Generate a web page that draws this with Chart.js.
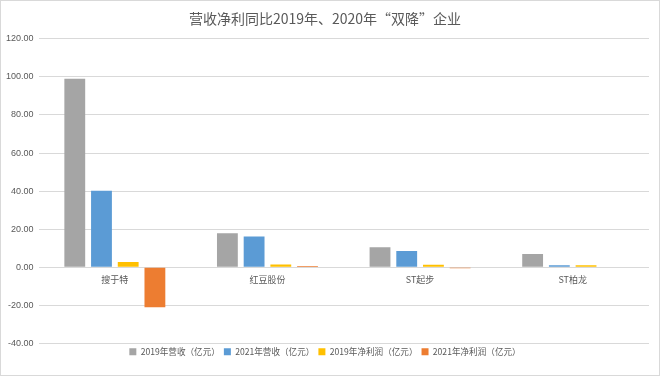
<!DOCTYPE html>
<html>
<head>
<meta charset="utf-8">
<script src="https://cdn.jsdelivr.net/npm/chart.js@4/dist/chart.umd.min.js"></script>
<style>
  body { margin: 0; background: #fff; }
  #wrap { width: 658px; height: 374px; border: 1px solid #d9d9d9; position: relative; }
</style>
</head>
<body>
<div id="wrap"><canvas id="chart" width="658" height="374"></canvas></div>
<script>
var companies = ["搜于特", "红豆股份", "ST起步", "ST柏龙"];
var revenue2019 = [99.0, 17.8, 10.5, 7.0];
var revenue2021 = [40.2, 16.1, 8.5, 1.0];
var profit2019 = [2.8, 1.4, 1.3, 1.0];
var profit2021 = [-21.0, 0.6, -0.5, 0.0];
var seriesNames = ["2019年营收（亿元）", "2021年营收（亿元）", "2019年净利润（亿元）", "2021年净利润（亿元）"];
var seriesColors = ["#a5a5a5", "#5b9bd5", "#ffc000", "#ed7d31"];

var allSeries = [revenue2019, revenue2021, profit2019, profit2021];
var datasets = [];
for (var i = 0; i < allSeries.length; i++) {
  datasets.push({
    label: seriesNames[i],
    data: allSeries[i],
    backgroundColor: seriesColors[i],
    borderWidth: 0,
    barPercentage: 0.78,
    categoryPercentage: 0.7
  });
}

var fontFamily = "'Noto Sans CJK SC', 'Liberation Sans', sans-serif";
var ctx = document.getElementById('chart').getContext('2d');
var chart = new Chart(ctx, {
  type: 'bar',
  data: { labels: companies, datasets: datasets },
  options: {
    responsive: false,
    animation: false,
    layout: { padding: { left: 0, right: 10, top: 0, bottom: 9 } },
    plugins: {
      title: {
        display: true,
        text: '营收净利同比2019年、2020年“双降”企业',
        color: '#595959',
        font: { family: fontFamily, size: 14, weight: 'normal' },
        padding: { top: 9, bottom: 12 }
      },
      legend: {
        position: 'bottom',
        labels: {
          color: '#595959',
          boxWidth: 7,
          boxHeight: 7,
          padding: 4,
          font: { family: fontFamily, size: 8.6 }
        }
      },
      tooltip: { enabled: false }
    },
    scales: {
      x: {
        position: { y: 0 },
        grid: { display: false, drawTicks: false },
        border: { display: false },
        ticks: {
          color: '#595959',
          padding: 7,
          font: { family: fontFamily, size: 9 }
        }
      },
      y: {
        min: -40,
        max: 120,
        grid: { color: '#d9d9d9', lineWidth: 1, drawTicks: false },
        border: { display: false },
        ticks: {
          stepSize: 20,
          color: '#595959',
          padding: 5,
          font: { family: "'Liberation Sans', sans-serif", size: 9 },
          callback: function (v) { return v.toFixed(2); }
        }
      }
    }
  }
});
</script>
</body>
</html>
